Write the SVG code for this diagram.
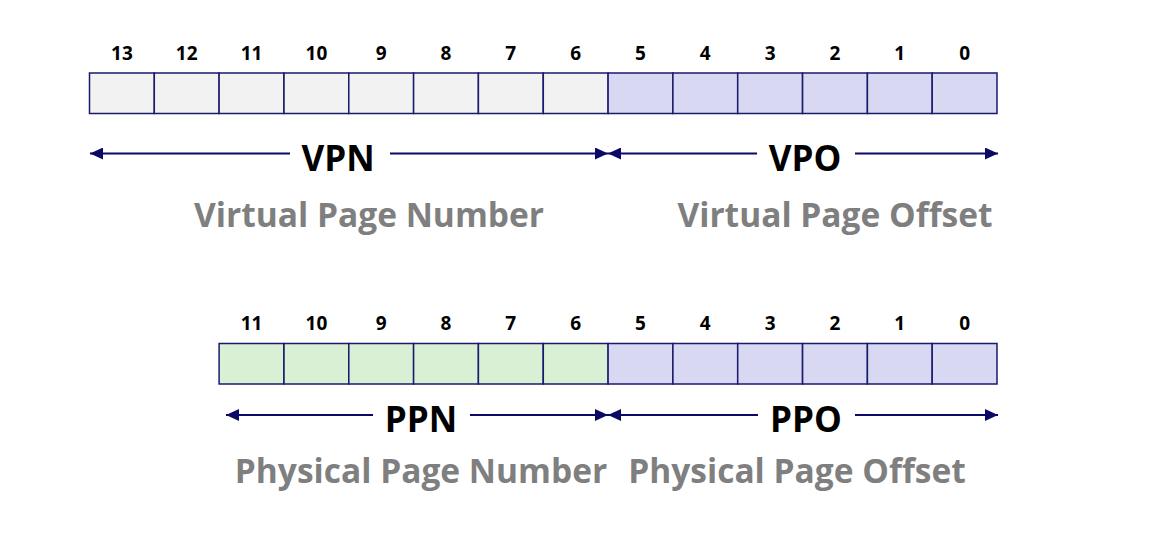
<svg xmlns="http://www.w3.org/2000/svg" width="1174" height="554" viewBox="0 0 1174 554">
<style>
.bit{font-family:"Open Sans","Liberation Sans",sans-serif;font-weight:700;font-size:19px;fill:#000;text-anchor:middle}
.abbr{font-family:"Open Sans","Liberation Sans",sans-serif;font-weight:700;font-size:35px;fill:#000;text-anchor:middle}
.name{font-family:"Open Sans","Liberation Sans",sans-serif;font-weight:700;font-size:33.5px;fill:#7f7f7f;text-anchor:middle}
.cell{stroke:#1a1a6e;stroke-width:1.5}
.g{fill:#f2f2f2}
.p{fill:#d8d8f2}
.n{fill:#daf0d4}
.arr{stroke:#0a0a66;stroke-width:2;fill:none;marker-end:url(#ah)}
</style>
<defs>
<marker id="ah" viewBox="0 0 13 12" refX="13" refY="6" markerWidth="13" markerHeight="12" orient="auto" markerUnits="userSpaceOnUse">
<path d="M0,0 L13,6 L0,12 z" fill="#0a0a66"/>
</marker>
</defs>
<rect width="1174" height="554" fill="#fff"/>

<g id="virtual-address">
<g id="va-bits">
<text class="bit" x="121.9" y="60">13</text>
<text class="bit" x="186.7" y="60">12</text>
<text class="bit" x="251.5" y="60">11</text>
<text class="bit" x="316.4" y="60">10</text>
<text class="bit" x="381.2" y="60">9</text>
<text class="bit" x="446.0" y="60">8</text>
<text class="bit" x="510.8" y="60">7</text>
<text class="bit" x="575.7" y="60">6</text>
<text class="bit" x="640.5" y="60">5</text>
<text class="bit" x="705.3" y="60">4</text>
<text class="bit" x="770.1" y="60">3</text>
<text class="bit" x="835.0" y="60">2</text>
<text class="bit" x="899.8" y="60">1</text>
<text class="bit" x="964.6" y="60">0</text>
</g>
<g id="va-cells">
<rect class="cell g" x="89.5" y="73" width="64.8" height="40.5"/>
<rect class="cell g" x="154.3" y="73" width="64.8" height="40.5"/>
<rect class="cell g" x="219.1" y="73" width="64.8" height="40.5"/>
<rect class="cell g" x="284.0" y="73" width="64.8" height="40.5"/>
<rect class="cell g" x="348.8" y="73" width="64.8" height="40.5"/>
<rect class="cell g" x="413.6" y="73" width="64.8" height="40.5"/>
<rect class="cell g" x="478.4" y="73" width="64.8" height="40.5"/>
<rect class="cell g" x="543.3" y="73" width="64.8" height="40.5"/>
<rect class="cell p" x="608.1" y="73" width="64.8" height="40.5"/>
<rect class="cell p" x="672.9" y="73" width="64.8" height="40.5"/>
<rect class="cell p" x="737.7" y="73" width="64.8" height="40.5"/>
<rect class="cell p" x="802.6" y="73" width="64.8" height="40.5"/>
<rect class="cell p" x="867.4" y="73" width="64.8" height="40.5"/>
<rect class="cell p" x="932.2" y="73" width="64.8" height="40.5"/>
</g>
</g>

<g id="vpn-label">
<text class="abbr" x="338" y="171">VPN</text>
<text class="name" x="369" y="227">Virtual Page Number</text>
</g>
<g id="vpo-label">
<text class="abbr" x="805" y="171">VPO</text>
<text class="name" x="835" y="227">Virtual Page Offset</text>
</g>

<g id="physical-address">
<g id="pa-bits">
<text class="bit" x="251.5" y="330">11</text>
<text class="bit" x="316.4" y="330">10</text>
<text class="bit" x="381.2" y="330">9</text>
<text class="bit" x="446.0" y="330">8</text>
<text class="bit" x="510.8" y="330">7</text>
<text class="bit" x="575.7" y="330">6</text>
<text class="bit" x="640.5" y="330">5</text>
<text class="bit" x="705.3" y="330">4</text>
<text class="bit" x="770.1" y="330">3</text>
<text class="bit" x="835.0" y="330">2</text>
<text class="bit" x="899.8" y="330">1</text>
<text class="bit" x="964.6" y="330">0</text>
</g>
<g id="pa-cells">
<rect class="cell n" x="219.1" y="343.5" width="64.8" height="40.5"/>
<rect class="cell n" x="284.0" y="343.5" width="64.8" height="40.5"/>
<rect class="cell n" x="348.8" y="343.5" width="64.8" height="40.5"/>
<rect class="cell n" x="413.6" y="343.5" width="64.8" height="40.5"/>
<rect class="cell n" x="478.4" y="343.5" width="64.8" height="40.5"/>
<rect class="cell n" x="543.3" y="343.5" width="64.8" height="40.5"/>
<rect class="cell p" x="608.1" y="343.5" width="64.8" height="40.5"/>
<rect class="cell p" x="672.9" y="343.5" width="64.8" height="40.5"/>
<rect class="cell p" x="737.7" y="343.5" width="64.8" height="40.5"/>
<rect class="cell p" x="802.6" y="343.5" width="64.8" height="40.5"/>
<rect class="cell p" x="867.4" y="343.5" width="64.8" height="40.5"/>
<rect class="cell p" x="932.2" y="343.5" width="64.8" height="40.5"/>
</g>
</g>

<g id="ppn-label">
<text class="abbr" x="421" y="432">PPN</text>
<text class="name" x="421" y="483">Physical Page Number</text>
</g>
<g id="ppo-label">
<text class="abbr" x="806" y="432">PPO</text>
<text class="name" x="797" y="483">Physical Page Offset</text>
</g>

<g id="connectors">
<line class="arr" x1="290" y1="153.5" x2="90" y2="153.5"/>
<line class="arr" x1="390" y1="153.5" x2="608" y2="153.5"/>
<line class="arr" x1="757" y1="153.5" x2="608" y2="153.5"/>
<line class="arr" x1="855" y1="153.5" x2="998" y2="153.5"/>
<line class="arr" x1="373" y1="415" x2="226" y2="415"/>
<line class="arr" x1="470" y1="415" x2="608" y2="415"/>
<line class="arr" x1="758" y1="415" x2="608" y2="415"/>
<line class="arr" x1="855" y1="415" x2="998" y2="415"/>
</g>
</svg>
